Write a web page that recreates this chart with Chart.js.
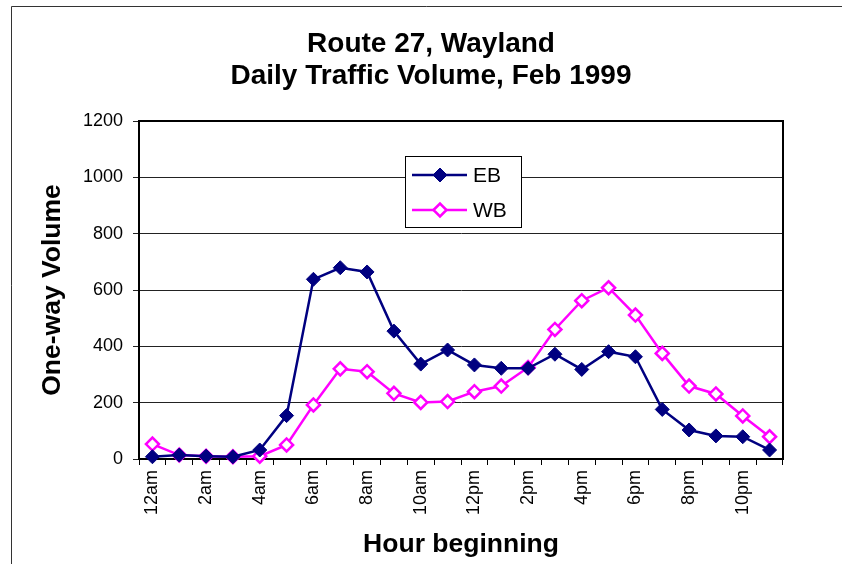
<!DOCTYPE html>
<html>
<head>
<meta charset="utf-8">
<script src="https://cdn.jsdelivr.net/npm/chart.js@4"></script>
<style>
  html, body { margin: 0; padding: 0; background: #fff; }
  #wrap { position: relative; width: 842px; height: 564px; }
</style>
</head>
<body>
<div id="wrap"><canvas id="traffic"></canvas></div>
<script>
// hourly counts, Route 27 Wayland, Feb 1999
const hours = ["12am","1am","2am","3am","4am","5am","6am","7am","8am","9am","10am","11am",
               "12pm","1pm","2pm","3pm","4pm","5pm","6pm","7pm","8pm","9pm","10pm","11pm"];
const eastbound = [8, 14, 10, 8, 32, 154, 638, 679, 664, 454, 337, 387,
                   334, 322, 322, 372, 318, 381, 363, 176, 103, 82, 79, 32];
const westbound = [53, 14, 10, 8, 10, 50, 192, 320, 310, 233, 201, 204,
                   239, 259, 325, 460, 562, 608, 511, 375, 259, 231, 153, 79];
const titleLines = ["Route 27, Wayland", "Daily Traffic Volume, Feb 1999"];

const FONT = "'Liberation Sans', Arial, sans-serif";

// thin frame on the left/top edge of the sheet + two-line heading
const framePlugin = {
  id: "frame",
  beforeDraw(chart) {
    const ctx = chart.ctx;
    ctx.save();
    ctx.strokeStyle = "#333";
    ctx.lineWidth = 1;
    ctx.beginPath();
    ctx.moveTo(11.5, chart.height);
    ctx.lineTo(11.5, 6.5);
    ctx.lineTo(chart.width, 6.5);
    ctx.stroke();

    // heading sits a bit left of the plot centre
    ctx.fillStyle = "#000";
    ctx.font = "bold 28px " + FONT;
    ctx.textAlign = "center";
    ctx.textBaseline = "middle";
    titleLines.forEach((t, i) => ctx.fillText(t, 431, 44 + i * 32));
    ctx.restore();
  },
  // full box round the plot area
  beforeDatasetsDraw(chart) {
    const { left, top, right, bottom } = chart.chartArea;
    const ctx = chart.ctx;
    ctx.save();
    ctx.strokeStyle = "#000";
    ctx.lineWidth = 2;
    ctx.strokeRect(left, top, right - left, bottom - top);
    ctx.restore();
  }
};

// boxed legend sitting inside the plot
const boxLegend = {
  id: "boxLegend",
  afterDraw(chart) {
    const ctx = chart.ctx;
    const x = 405, y = 156, w = 116, h = 71;
    ctx.save();
    ctx.fillStyle = "#fff";
    ctx.fillRect(x, y, w, h);
    ctx.strokeStyle = "#000";
    ctx.lineWidth = 1;
    ctx.strokeRect(x + 0.5, y + 0.5, w, h);
    ctx.font = "21px " + FONT;
    ctx.textBaseline = "middle";
    chart.data.datasets.forEach((ds, i) => {
      const cy = y + 19 + i * 35;
      ctx.strokeStyle = ds.borderColor;
      ctx.lineWidth = ds.borderWidth;
      ctx.beginPath();
      ctx.moveTo(x + 7, cy);
      ctx.lineTo(x + 62, cy);
      ctx.stroke();
      ctx.fillStyle = ds.pointBackgroundColor;
      ctx.strokeStyle = ds.pointBorderColor;
      ctx.lineWidth = ds.pointBorderWidth;
      Chart.helpers.drawPoint(ctx, {
        pointStyle: "rectRot",
        radius: ds.pointRadius,
        rotation: 0,
        borderWidth: ds.pointBorderWidth
      }, x + 35, cy);
      ctx.fillStyle = "#000";
      ctx.fillText(ds.label, x + 68, cy + 1);
    });
    ctx.restore();
  }
};

new Chart(document.getElementById("traffic"), {
  type: "line",
  data: {
    labels: hours,
    datasets: [
      {
        label: "EB",
        data: eastbound,
        borderColor: "#000080",
        backgroundColor: "#000080",
        borderWidth: 2.5,
        pointStyle: "rectRot",
        pointRadius: 7,
        pointBackgroundColor: "#000080",
        pointBorderColor: "#000080",
        pointBorderWidth: 1,
        tension: 0,
        clip: false
      },
      {
        label: "WB",
        data: westbound,
        borderColor: "#ff00ff",
        backgroundColor: "#ff00ff",
        borderWidth: 2.5,
        pointStyle: "rectRot",
        pointRadius: 6.5,
        pointBackgroundColor: "#fff",
        pointBorderColor: "#ff00ff",
        pointBorderWidth: 2.5,
        tension: 0,
        clip: false
      }
    ]
  },
  options: {
    responsive: true,
    maintainAspectRatio: false,
    animation: false,
    layout: { padding: { left: 0, right: 59, top: 121, bottom: 0 } },
    plugins: {
      legend: { display: false },
      tooltip: { enabled: false },
      title: { display: false }
    },
    scales: {
      x: {
        offset: true,
        grid: {
          offset: true,
          drawOnChartArea: false,
          drawTicks: true,
          tickLength: 6,
          color: "#000",
          lineWidth: 1
        },
        border: { display: true, color: "#000", width: 2 },
        ticks: {
          autoSkip: false,
          maxRotation: 90,
          minRotation: 90,
          padding: 5,
          color: "#000",
          font: { family: FONT, size: 18 },
          callback: (v, i) => (i % 2 === 0 ? hours[i] : "")
        },
        title: {
          display: true,
          text: "Hour beginning",
          color: "#000",
          font: { family: FONT, size: 26.5, weight: "bold" },
          padding: { top: 0, bottom: 3 }
        },
        afterFit: s => { s.height = 105; }
      },
      y: {
        min: 0,
        max: 1200,
        grid: {
          color: "#222",
          lineWidth: 1,
          drawTicks: true,
          tickLength: 6
        },
        border: { display: true, color: "#000", width: 2 },
        ticks: {
          stepSize: 200,
          padding: 10,
          color: "#000",
          font: { family: FONT, size: 18 },
          callback: v => String(v)
        },
        title: {
          display: true,
          text: "One-way Volume",
          color: "#000",
          font: { family: FONT, size: 26.5, weight: "bold" },
          padding: { top: 37, bottom: 0 }
        },
        afterFit: s => { s.width = 139; }
      }
    }
  },
  plugins: [framePlugin, boxLegend]
});
</script>
</body>
</html>
